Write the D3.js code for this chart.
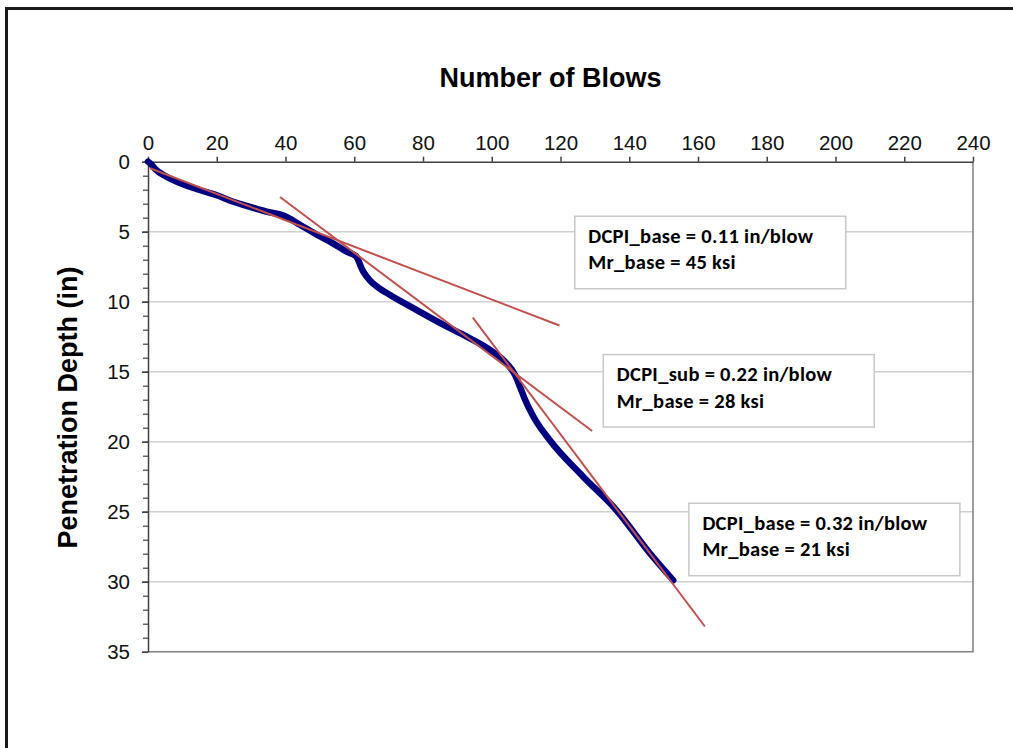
<!DOCTYPE html>
<html>
<head>
<meta charset="utf-8">
<script src="https://cdn.jsdelivr.net/npm/d3@7"></script>
<style>
  body { margin: 0; background: #fff; }
  .axis-title { font-family: "Liberation Sans", Arial, sans-serif; font-weight: bold; font-size: 27px; fill: #000; }
  .tick-label { font-family: "Liberation Sans", Arial, sans-serif; font-size: 20.5px; fill: #111; }
  .note { font-family: Calibri, Carlito, Lato, sans-serif; font-weight: bold; font-size: 20.5px; letter-spacing: 0.3px; fill: #000; }
</style>
</head>
<body>
<div class="chart"></div>
<script>
// measured DCP curve
const blows = [0, 1, 2, 5.4, 10, 15.1, 20, 24.8, 30, 34.5, 39.4, 44.2, 49, 53.8, 57.8, 60.5, 62.5, 64.6, 67, 70.4,
  78.2, 86, 92.7, 99.5, 104.3, 106.8, 108.2, 109.7, 112.1, 116.9, 126.6, 136.3, 146, 152.8];
const depth = [0, 0.2, 0.5, 1.07, 1.6, 2.02, 2.4, 2.86, 3.25, 3.57, 3.85, 4.5, 5.2, 5.83, 6.43, 6.75, 7.8, 8.5, 9.0, 9.52,
  10.6, 11.66, 12.5, 13.45, 14.4, 15.24, 16.07, 17.0, 18.2, 19.9, 22.5, 24.9, 27.97, 29.9];

// fitted lines, [start, end] in blows / depth
const fitBlows = [[0.6, 119.7], [38.4, 129.2], [94.5, 162.0]];
const fitDepth = [[0.47, 11.7], [2.52, 19.24], [11.14, 33.2]];

// annotations: anchor (top-left) in blows / depth
const noteBlows = [124.0, 132.3, 157.2];
const noteDepth = [3.86, 13.74, 24.36];
const noteLines = [
  ['DCPI_base = 0.11 in/blow', 'Mr_base = 45 ksi'],
  ['DCPI_sub = 0.22 in/blow', 'Mr_base = 28 ksi'],
  ['DCPI_base = 0.32 in/blow', 'Mr_base = 21 ksi']
];

const xTicks = d3.range(0, 241, 20);
const yTicks = d3.range(0, 36, 5);
const yMinor = d3.range(0, 36, 1);

const W = 1013, H = 748;
const margin = {top: 161.7, left: 148, right: 40, bottom: 96.3};
const width = W - margin.left - margin.right;
const height = H - margin.top - margin.bottom;

const svg = d3.select('.chart').append('svg')
    .attr('width', W)
    .attr('height', H);

// outer frame (left + top visible)
svg.append('path')
    .attr('d', `M6.5,${H} V8.5 H${W}`)
    .attr('fill', 'none')
    .attr('stroke', '#1a1a1a')
    .attr('stroke-width', 3);

const g = svg.append('g')
    .attr('transform', `translate(${margin.left},${margin.top})`);

const x = d3.scaleLinear().domain([0, 240]).range([0, width]);
const y = d3.scaleLinear().domain([0, 35]).range([0, height]);

// gridlines
g.append('g')
    .selectAll('line')
    .data(yTicks.filter(d => d > 0 && d < 35))
  .enter().append('line')
    .attr('x1', 0)
    .attr('x2', width)
    .attr('y1', d => y(d))
    .attr('y2', d => y(d))
    .attr('stroke', '#d0d0d0')
    .attr('stroke-width', 1.5);

// plot border right/bottom
g.append('path')
    .attr('d', `M${width},0 V${height} H0`)
    .attr('fill', 'none')
    .attr('stroke', '#7f7f7f')
    .attr('stroke-width', 1.5);

// x axis on top
const xAxis = g.append('g')
    .call(d3.axisTop(x).tickValues(xTicks).tickSize(5).tickPadding(7).tickSizeOuter(0));
xAxis.select('.domain').attr('stroke', '#404040').attr('stroke-width', 1.5);
xAxis.selectAll('.tick line').attr('stroke', '#404040').attr('stroke-width', 1.5);
xAxis.selectAll('.tick text').attr('class', 'tick-label').attr('font-size', null).attr('font-family', null);

// y axis, minor ticks first
g.append('g')
    .call(d3.axisLeft(y).tickValues(yMinor).tickSize(5).tickFormat('').tickSizeOuter(0))
  .call(a => a.select('.domain').remove())
  .selectAll('.tick line').attr('stroke', '#404040').attr('stroke-width', 1.2);

const yAxis = g.append('g')
    .call(d3.axisLeft(y).tickValues(yTicks).tickSize(6).tickPadding(12).tickSizeOuter(0));
yAxis.select('.domain').attr('stroke', '#404040').attr('stroke-width', 1.5);
yAxis.selectAll('.tick line').attr('stroke', '#404040').attr('stroke-width', 1.5);
yAxis.selectAll('.tick text').attr('class', 'tick-label').attr('font-size', null).attr('font-family', null);

// axis titles
svg.append('text')
    .attr('class', 'axis-title')
    .attr('x', 550.5)
    .attr('y', 87)
    .attr('text-anchor', 'middle')
    .text('Number of Blows');

svg.append('text')
    .attr('class', 'axis-title')
    .attr('transform', 'translate(77,407.5) rotate(-90)')
    .attr('text-anchor', 'middle')
    .text('Penetration Depth (in)');

// measured data
const pts = blows.map((b, i) => [b, depth[i]]);
g.append('path')
    .datum(pts)
    .attr('fill', 'none')
    .attr('stroke', '#000080')
    .attr('stroke-width', 6.5)
    .attr('stroke-linejoin', 'round')
    .attr('stroke-linecap', 'round')
    .attr('d', d3.line().curve(d3.curveMonotoneX).x(d => x(d[0])).y(d => y(d[1])));

// fitted lines
g.append('g')
    .selectAll('line')
    .data(fitBlows.map((b, i) => ({b, d: fitDepth[i]})))
  .enter().append('line')
    .attr('x1', d => x(d.b[0]))
    .attr('x2', d => x(d.b[1]))
    .attr('y1', d => y(d.d[0]))
    .attr('y2', d => y(d.d[1]))
    .attr('stroke', '#c0504d')
    .attr('stroke-width', 2);

// annotation boxes
const boxW = 271, boxH = 72.5;
const notes = g.append('g')
    .selectAll('g')
    .data(noteLines)
  .enter().append('g')
    .attr('transform', (d, i) => `translate(${x(noteBlows[i])},${y(noteDepth[i])})`);

notes.append('rect')
    .attr('x', 0.5)
    .attr('y', 0.5)
    .attr('width', boxW)
    .attr('height', boxH)
    .attr('fill', '#fff')
    .attr('stroke', '#c8c8c8')
    .attr('stroke-width', 1.5);

notes.each(function (d) {
  d3.select(this).selectAll('text')
      .data(d)
    .enter().append('text')
      .attr('class', 'note')
      .attr('x', 14)
      .attr('y', (t, j) => 27 + j * 26.5)
      .text(t => t);
});
</script>
</body>
</html>
